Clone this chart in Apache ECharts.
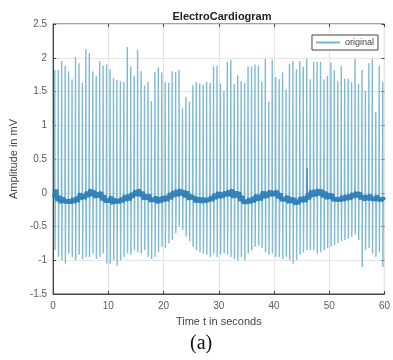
<!DOCTYPE html>
<html>
<head>
<meta charset="utf-8">
<style>
  html, body { margin: 0; padding: 0; background: #fff; }
  #chart { width: 393px; height: 360px; }
</style>
<script src="https://cdn.jsdelivr.net/npm/echarts@6/dist/echarts.min.js"></script>
</head>
<body>
<div id="chart"></div>
<script>
// beat (R-peak) times in seconds
const beatTimes = [
  0.30, 0.93, 1.55, 2.18, 2.80, 3.43, 4.05, 4.68, 5.30, 5.93,
  6.55, 7.18, 7.80, 8.43, 9.05, 9.68, 10.30, 10.93, 11.55, 12.18,
  12.80, 13.43, 14.05, 14.68, 15.30, 15.93, 16.55, 17.18, 17.80, 18.43,
  19.05, 19.68, 20.30, 20.93, 21.55, 22.18, 22.80, 23.43, 24.05, 24.68,
  25.30, 25.93, 26.55, 27.18, 27.80, 28.43, 29.05, 29.68, 30.30, 30.93,
  31.55, 32.18, 32.80, 33.43, 34.05, 34.68, 35.30, 35.93, 36.55, 37.18,
  37.80, 38.43, 39.05, 39.68, 40.30, 40.93, 41.55, 42.18, 42.80, 43.43,
  44.05, 44.68, 45.30, 45.93, 46.55, 47.18, 47.80, 48.43, 49.05, 49.68,
  50.30, 50.93, 51.55, 52.18, 52.80, 53.43, 54.05, 54.68, 55.30, 55.93,
  56.55, 57.18, 57.80, 58.43, 59.05, 59.68
];

// R-peak amplitudes (mV)
const peaks = [
  1.82, 1.82, 1.95, 1.88, 1.80, 1.68, 2.01, 1.92, 1.63, 2.13,
  2.07, 1.80, 1.73, 1.95, 1.88, 1.90, 1.83, 1.70, 1.67, 1.65,
  1.64, 2.16, 1.87, 1.73, 2.12, 1.80, 1.59, 1.64, 1.36, 1.79,
  1.86, 1.78, 1.64, 1.63, 1.80, 1.79, 1.82, 1.25, 1.42, 1.35,
  1.59, 1.64, 1.62, 1.60, 1.64, 1.63, 1.87, 1.88, 1.62, 1.51,
  1.94, 1.97, 1.61, 1.74, 1.65, 1.63, 1.87, 1.87, 1.90, 1.88,
  1.65, 1.98, 1.35, 1.97, 1.71, 1.68, 1.78, 1.53, 1.91, 1.95,
  1.83, 1.95, 1.87, 1.98, 1.68, 1.94, 1.94, 1.94, 1.68, 1.73,
  1.93, 1.82, 1.65, 1.88, 1.69, 1.69, 1.64, 1.98, 1.61, 1.82,
  1.51, 1.92, 1.98, 1.20, 1.88, 1.64
];

// S-trough amplitudes (mV)
const troughs = [
  -0.85, -0.95, -1.00, -1.05, -0.90, -0.95, -1.00, -0.92, -0.98, -0.95,
  -0.95, -0.90, -0.98, -0.95, -0.90, -1.05, -1.05, -1.00, -1.08, -1.00,
  -0.95, -0.90, -0.92, -0.85, -0.88, -0.90, -0.85, -0.95, -0.98, -0.95,
  -0.88, -0.80, -0.82, -0.75, -0.70, -0.60, -0.50, -0.55, -0.65, -0.72,
  -0.80, -0.85, -0.88, -0.90, -0.92, -0.95, -0.90, -0.95, -0.92, -0.90,
  -0.92, -0.95, -0.98, -1.00, -0.95, -1.00, -0.90, -0.85, -0.80, -0.78,
  -0.82, -0.88, -0.92, -0.90, -0.95, -0.95, -0.98, -0.95, -1.00, -1.05,
  -1.00, -0.92, -0.88, -0.85, -0.85, -0.85, -0.90, -0.88, -0.85, -0.82,
  -0.80, -0.78, -0.75, -0.72, -0.70, -0.68, -0.65, -0.62, -0.70, -1.10,
  -0.85, -0.82, -0.90, -0.95, -0.88, -1.10
];

// small T wave heights above the baseline, per beat (mV)
const tWaves = [
  0.10, 0.05, 0.06, 0.04, 0.05, 0.06, 0.05, 0.07, 0.05, 0.06,
  0.08, 0.06, 0.05, 0.06, 0.05, 0.04, 0.06, 0.05, 0.04, 0.05,
  0.06, 0.07, 0.05, 0.06, 0.08, 0.06, 0.05, 0.05, 0.04, 0.05,
  0.06, 0.05, 0.06, 0.07, 0.06, 0.08, 0.07, 0.05, 0.06, 0.05,
  0.04, 0.05, 0.06, 0.05, 0.04, 0.05, 0.06, 0.07, 0.06, 0.05,
  0.06, 0.08, 0.07, 0.06, 0.05, 0.04, 0.05, 0.06, 0.07, 0.06,
  0.08, 0.07, 0.06, 0.05, 0.06, 0.05, 0.04, 0.05, 0.06, 0.05,
  0.04, 0.05, 0.06, 0.06, 0.07, 0.08, 0.07, 0.06, 0.05, 0.06,
  0.05, 0.04, 0.05, 0.06, 0.05, 0.06, 0.05, 0.06, 0.05, 0.04,
  0.05, 0.06, 0.05, 0.06, 0.05, 0.04
];

// baseline wander, one value per second from 0 to 60 s
const baseline = [
  -0.05, -0.10, -0.13, -0.14, -0.12, -0.08, -0.05, -0.03, -0.05, -0.09,
  -0.12, -0.14, -0.13, -0.10, -0.06, -0.03, -0.04, -0.08, -0.11, -0.13,
  -0.11, -0.08, -0.04, -0.02, -0.04, -0.08, -0.12, -0.13, -0.11, -0.08,
  -0.06, -0.04, -0.03, -0.05, -0.10, -0.14, -0.13, -0.10, -0.06, -0.03,
  -0.03, -0.06, -0.10, -0.13, -0.15, -0.12, -0.08, -0.04, -0.02, -0.04,
  -0.07, -0.10, -0.11, -0.09, -0.06, -0.05, -0.07, -0.09, -0.10, -0.11,
  -0.10
];

// single noise artifact near 46 s: [time, value]
const artifact = [[45.95, -0.05], [46.0, 0.37], [46.05, -0.05]];

const xTicks = [0, 10, 20, 30, 40, 50, 60];
const yTicks = [-1.5, -1, -0.5, 0, 0.5, 1, 1.5, 2, 2.5];

const baseAt = (t) => baseline[Math.min(baseline.length - 1, Math.round(t))];

const ecgData = [];
const bandData = [];
beatTimes.forEach((t, i) => {
  const b = baseAt(t);
  ecgData.push([t - 0.05, b]);
  ecgData.push([t, peaks[i]]);
  ecgData.push([t + 0.04, troughs[i]]);
  ecgData.push([t + 0.09, b]);
  bandData.push([t - 0.1, b - 0.02]);
  bandData.push([t, b + 0.02]);
  bandData.push([t + 0.2, b + tWaves[i] * 0.5]);
  bandData.push([t + 0.25, b + tWaves[i]]);
  bandData.push([t + 0.32, b - 0.01]);
});

const chart = echarts.init(document.getElementById('chart'));

const axisFont = { fontFamily: 'Liberation Sans', fontSize: 10, color: '#5a5a5a' };
const tickStyle = { show: true, inside: true, length: 3, lineStyle: { color: '#444' } };

chart.setOption({
  animation: false,
  backgroundColor: '#fff',
  title: {
    text: 'ElectroCardiogram',
    left: 217,
    textAlign: 'center',
    top: 6,
    textStyle: { fontFamily: 'Liberation Sans', fontSize: 11, fontWeight: 'bold', color: '#222' }
  },
  legend: {
    data: [{ name: 'original', icon: 'rect' }],
    right: 15,
    top: 35,
    itemWidth: 24,
    itemHeight: 2,
    itemGap: 4,
    padding: [3, 4, 3, 4],
    borderColor: '#444',
    borderWidth: 1,
    borderRadius: 0,
    backgroundColor: '#fff',
    textStyle: { fontFamily: 'Liberation Sans', fontSize: 9, color: '#444' }
  },
  grid: { left: 48, top: 24, width: 339, height: 270, show: true, borderColor: '#444', borderWidth: 1 },
  xAxis: [{
    type: 'value',
    min: 0,
    max: 60,
    interval: 10,
    name: 'Time t in seconds',
    nameLocation: 'middle',
    nameGap: 22,
    nameTextStyle: { fontFamily: 'Liberation Sans', fontSize: 11, color: '#444' },
    axisLine: { show: true, onZero: false, lineStyle: { color: '#444' } },
    axisTick: tickStyle,
    axisLabel: Object.assign({ margin: 7, formatter: (v) => xTicks.includes(v) ? String(v) : '' }, axisFont),
    splitLine: { show: true, lineStyle: { color: '#e4e4e4' } }
  }, {
    type: 'value',
    position: 'top',
    min: 0,
    max: 60,
    interval: 10,
    axisLine: { show: false, onZero: false },
    axisTick: tickStyle,
    axisLabel: { show: false },
    splitLine: { show: false }
  }],
  yAxis: [{
    type: 'value',
    min: -1.5,
    max: 2.5,
    interval: 0.5,
    name: 'Amplitude in mV',
    nameLocation: 'middle',
    nameGap: 30,
    nameTextStyle: { fontFamily: 'Liberation Sans', fontSize: 11, color: '#444' },
    axisLine: { show: true, onZero: false, lineStyle: { color: '#444' } },
    axisTick: tickStyle,
    axisLabel: Object.assign({ margin: 6, formatter: (v) => yTicks.includes(v) ? String(v) : '' }, axisFont),
    splitLine: { show: true, lineStyle: { color: '#e4e4e4' } }
  }, {
    type: 'value',
    position: 'right',
    min: -1.5,
    max: 2.5,
    interval: 0.5,
    axisLine: { show: false, onZero: false },
    axisTick: tickStyle,
    axisLabel: { show: false },
    splitLine: { show: false }
  }],
  series: [{
    name: 'original',
    type: 'line',
    data: ecgData,
    showSymbol: false,
    symbol: 'none',
    color: '#7ab6cc',
    lineStyle: { width: 1.4, color: '#80bad0' },
    z: 2
  }, {
    name: 'band',
    type: 'line',
    data: bandData,
    showSymbol: false,
    symbol: 'none',
    lineStyle: { width: 4.5, color: '#1f74b4', opacity: 0.85 },
    z: 3
  }, {
    name: 'artifact',
    type: 'line',
    data: artifact,
    showSymbol: false,
    symbol: 'none',
    lineStyle: { width: 1.2, color: '#3a88c0' },
    z: 3
  }],
  graphic: [{
    type: 'text',
    left: 190,
    top: 334,
    style: { text: '(a)', fontFamily: 'Liberation Serif', fontSize: 20, fill: '#111' }
  }]
});
</script>
</body>
</html>
